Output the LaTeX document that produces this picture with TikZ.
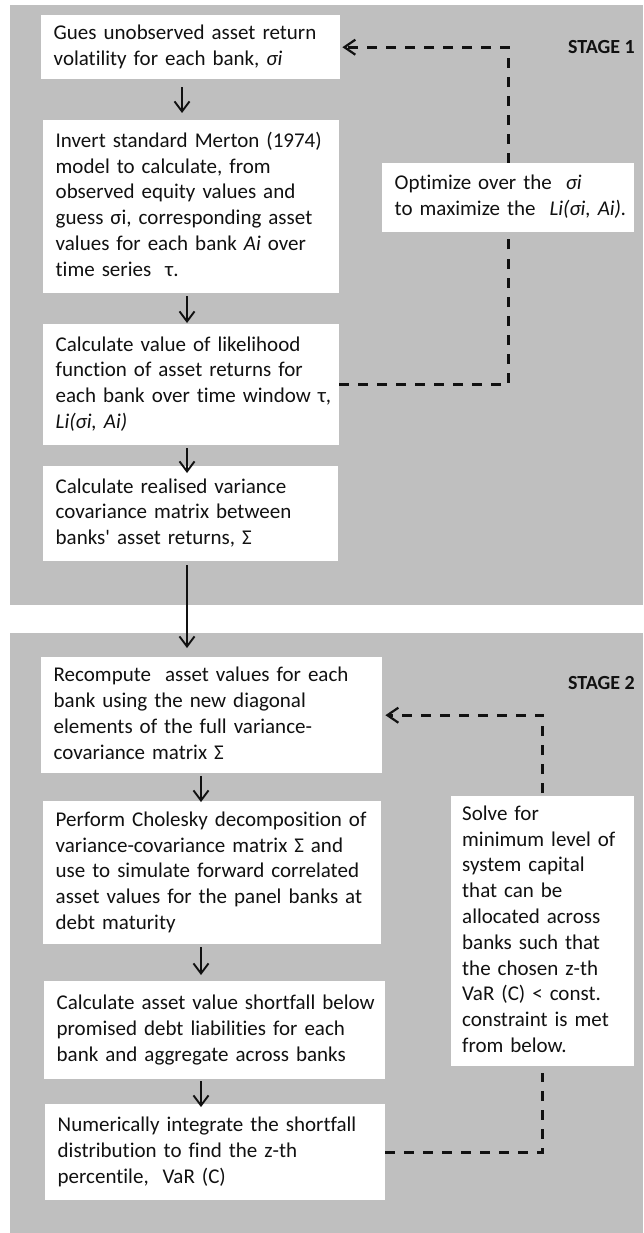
\documentclass[tikz,border=0pt]{standalone}
\usepackage{fontspec}
\setmainfont{Carlito}[Ligatures={TeX,NoCommon}]
\usetikzlibrary{arrows.meta}
\definecolor{panelgray}{HTML}{BFBFBF}
\definecolor{ink}{HTML}{111111}
\newcommand{\boxlines}[1]{\noindent\begin{tabular}{@{}l@{}}#1\end{tabular}}
\begin{document}
\begin{tikzpicture}[x=1pt,y=-1pt,
  panel/.style={fill=panelgray,draw=none},
  box/.style={fill=white,draw=none,anchor=north west,align=left,inner xsep=12.5pt,inner ysep=0pt,
    text=ink,font=\fontsize{21}{25.8}\selectfont},
  stagelbl/.style={anchor=west,inner sep=0pt,text=ink,font=\fontsize{20}{24}\selectfont\bfseries},
  arr/.style={draw=ink,line width=1.9pt,-{Straight Barb[length=10pt,width=15pt,line width=1.9pt]}},
  dsh/.style={draw=ink,line width=2.8pt,dash pattern=on 10pt off 9pt},
  dsharr/.style={dsh,-{Straight Barb[length=11pt,width=15pt,line width=2.2pt]}}
]
\useasboundingbox (0,0) rectangle (643,1233);
% panels
\fill[panel] (10,5) rectangle (643,605);
\fill[panel] (10,633) rectangle (643,1233);
\node[stagelbl] (stage1) at (568,47) {STAGE 1};
\node[stagelbl] (stage2) at (568,683) {STAGE 2};
% stage 1 boxes
\node[box,text width=274pt,minimum height=64pt] (b1) at (41,15)
  {\boxlines{Gues unobserved asset return\\volatility for each bank, \textit{σi}}};
\node[box,text width=271pt,minimum height=173pt] (b2) at (43,120)
  {\boxlines{Invert standard Merton (1974)\\model to calculate, from\\observed equity values and\\guess σi, corresponding asset\\values for each bank \textit{Ai} over\\time series\ \ τ.}};
\node[box,text width=271pt,minimum height=121pt] (b3) at (43,324)
  {\boxlines{Calculate value of likelihood\\function of asset returns for\\each bank over time window τ,\\\textit{Li(σi, Ai)}}};
\node[box,text width=270pt,minimum height=95pt] (b4) at (43,466)
  {\boxlines{Calculate realised variance\\covariance matrix between\\banks\textquotesingle{} asset returns, Σ}};
\node[box,text width=227pt,minimum height=69pt] (opt) at (382,163)
  {\boxlines{Optimize over the\ \ \textit{σi}\\to maximize the\ \ \textit{Li(σi, Ai).}}};
% stage 2 boxes
\node[box,text width=316pt,minimum height=116pt] (b5) at (41,657)
  {\boxlines{Recompute\ \ asset values for each\\bank using the new diagonal\\elements of the full variance-\\covariance matrix Σ}};
\node[box,text width=313pt,minimum height=143pt] (b6) at (43,801)
  {\boxlines{Perform Cholesky decomposition of\\variance-covariance matrix Σ and\\use to simulate forward correlated\\asset values for the panel banks at\\debt maturity}};
\node[box,text width=316pt,minimum height=98pt] (b7) at (44,981)
  {\boxlines{Calculate asset value shortfall below\\promised debt liabilities for each\\bank and aggregate across banks}};
\node[box,text width=315pt,minimum height=96pt] (b8) at (45,1104)
  {\boxlines{Numerically integrate the shortfall\\distribution to find the z-th\\percentile,\ \ VaR (C)}};
\node[box,text width=161pt,minimum height=270pt,inner xsep=11pt] (solve) at (451,796)
  {\boxlines{Solve for\\minimum level of\\system capital\\that can be\\allocated across\\banks such that\\the chosen z-th\\VaR (C) < const.\\constraint is met\\from below.}};
% arrow x positions
\coordinate (ax1) at (182,0);
\coordinate (ax2) at (187,0);
\coordinate (ax3) at (201,0);
% solid arrows
\draw[arr,shorten <=8pt,shorten >=7pt] (b1.south -| ax1) -- (b2.north -| ax1);
\draw[arr,shorten <=3pt,shorten >=1pt] (b2.south -| ax2) -- (b3.north -| ax2);
\draw[arr,shorten <=3pt,shorten >=-7pt] (b3.south -| ax2) -- (b4.north -| ax2);
\draw[arr,shorten <=4pt,shorten >=9pt] (b4.south -| ax2) -- (b5.north -| ax2);
\draw[arr,shorten <=3pt,shorten >=-1pt] (b5.south -| ax3) -- (b6.north -| ax3);
\draw[arr,shorten <=3pt,shorten >=6pt] (b6.south -| ax3) -- (b7.north -| ax3);
\draw[arr,shorten <=2pt,shorten >=-3pt] (b7.south -| ax3) -- (b8.north -| ax3);
% dashed feedback loops
\draw[dsh] (b3.east) -| (opt.south);
\draw[dsharr,shorten >=2pt] (opt.north) |- (b1.east);
\draw[dsh,shorten >=7pt] (b8.east) -| (solve.south);
\draw[dsharr,shorten <=3pt,shorten >=3pt] (solve.north) |- (b5.east);
\end{tikzpicture}
\end{document}
